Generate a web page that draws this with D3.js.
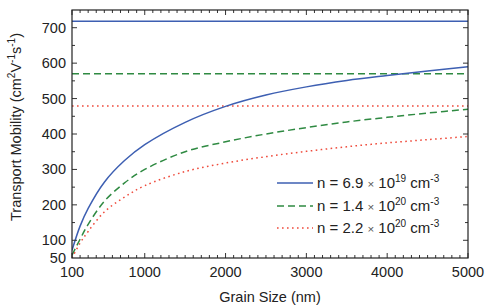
<!DOCTYPE html>
<html>
<head>
<meta charset="utf-8">
<script src="https://cdn.jsdelivr.net/npm/d3@7"></script>
<style>
  body { margin: 0; background: #fff; }
  text { font-family: "Liberation Sans", Arial, Helvetica, sans-serif; fill: #222; }
</style>
</head>
<body>
<div id="container"></div>
<script>
/* DATA */
const grainSize = [100, 200, 300, 500, 750, 1000, 1500, 2000, 2500, 3000, 3500, 4000, 4500, 5000];
const mobilityN1 = [72, 140, 190, 264, 325, 370, 433, 478, 510, 533, 551, 565, 578, 590];
const mobilityN2 = [58, 103, 145, 210, 262, 300, 350, 378, 400, 418, 434, 447, 459, 470];
const mobilityN3 = [50, 92, 125, 180, 222, 254, 294, 318, 336, 351, 364, 375, 384, 393];
const bulkMobility = [718, 570, 479];
const seriesNames = [["6.9", "19"], ["1.4", "20"], ["2.2", "20"]];
const xTickValues = [100, 1000, 2000, 3000, 4000, 5000];
const yTickValues = [50, 100, 200, 300, 400, 500, 600, 700];

/* CONSTANTS */
const width = 490, height = 308;
const mLeft = 72, mRight = 468, mTop = 10, mBottom = 258;
const colors = ["#3d5fb2", "#2f8a42", "#ef4b3c"];
const dashes = [null, "7,4", "1.6,3.4"];

const svg = d3.select("#container").append("svg")
  .attr("width", width).attr("height", height);

/* SCALES */
const xScale = d3.scaleLinear().domain([100, 5000]).range([mLeft, mRight]);
const yScale = d3.scaleLinear().domain([50, 750]).range([mBottom, mTop]);

// clip
svg.append("clipPath").attr("id", "clip")
  .append("rect").attr("x", mLeft).attr("y", mTop)
  .attr("width", mRight - mLeft).attr("height", mBottom - mTop);

const plot = svg.append("g").attr("clip-path", "url(#clip)");

const series = [mobilityN1, mobilityN2, mobilityN3];
const line = d3.line()
  .x(d => xScale(d[0]))
  .y(d => yScale(d[1]))
  .curve(d3.curveCatmullRom.alpha(0.5));

// bulk horizontal lines
bulkMobility.forEach((v, i) => {
  plot.append("line")
    .attr("x1", mLeft).attr("x2", mRight)
    .attr("y1", yScale(v)).attr("y2", yScale(v))
    .attr("stroke", colors[i]).attr("stroke-width", 1.5)
    .attr("stroke-dasharray", dashes[i]);
});

// curves
series.forEach((s, i) => {
  plot.append("path")
    .datum(grainSize.map((g, j) => [g, s[j]]))
    .attr("d", line)
    .attr("fill", "none")
    .attr("stroke", colors[i]).attr("stroke-width", 1.5)
    .attr("stroke-dasharray", dashes[i]);
});

/* AXES */
const minorX = d3.range(200, 5000, 100).filter(v => v % 1000 !== 0);
const minorY = d3.range(150, 750, 100);

function ticksX(y, dir) {
  const g = svg.append("g").attr("stroke", "#333").attr("stroke-width", 1);
  xTickValues.forEach(v => {
    g.append("line").attr("x1", xScale(v)).attr("x2", xScale(v))
      .attr("y1", y).attr("y2", y + dir * 5);
  });
  minorX.forEach(v => {
    g.append("line").attr("x1", xScale(v)).attr("x2", xScale(v))
      .attr("y1", y).attr("y2", y + dir * 3);
  });
}
function ticksY(x, dir) {
  const g = svg.append("g").attr("stroke", "#333").attr("stroke-width", 1);
  yTickValues.filter(v => v !== 50).forEach(v => {
    g.append("line").attr("x1", x).attr("x2", x + dir * 5)
      .attr("y1", yScale(v)).attr("y2", yScale(v));
  });
  minorY.forEach(v => {
    g.append("line").attr("x1", x).attr("x2", x + dir * 3)
      .attr("y1", yScale(v)).attr("y2", yScale(v));
  });
}
ticksX(mBottom, -1);
ticksX(mTop, 1);
ticksY(mLeft, 1);
ticksY(mRight, -1);

// frame
svg.append("rect")
  .attr("x", mLeft).attr("y", mTop)
  .attr("width", mRight - mLeft).attr("height", mBottom - mTop)
  .attr("fill", "none").attr("stroke", "#222").attr("stroke-width", 1.2);

// tick labels
svg.append("g").selectAll("text")
  .data(xTickValues).join("text")
  .attr("x", d => xScale(d)).attr("y", 277)
  .attr("text-anchor", "middle").attr("font-size", 14.5)
  .text(d => d);

svg.append("g").selectAll("text")
  .data(yTickValues).join("text")
  .attr("x", 66).attr("y", d => yScale(d) + 5)
  .attr("text-anchor", "end").attr("font-size", 14.5)
  .text(d => d);

// axis titles
svg.append("text")
  .attr("x", 270).attr("y", 302)
  .attr("text-anchor", "middle").attr("font-size", 14.5)
  .text("Grain Size (nm)");

const yt = svg.append("text")
  .attr("transform", "translate(21,127) rotate(-90)")
  .attr("text-anchor", "middle").attr("font-size", 14.5);
yt.append("tspan").text("Transport Mobility (cm");
yt.append("tspan").attr("dy", -6).attr("font-size", 10).text("2");
yt.append("tspan").attr("dy", 6).text("V");
yt.append("tspan").attr("dy", -6).attr("font-size", 10).text("-1");
yt.append("tspan").attr("dy", 6).text("s");
yt.append("tspan").attr("dy", -6).attr("font-size", 10).text("-1");
yt.append("tspan").attr("dy", 6).text(")");

/* LEGEND */
const legendY = [183, 206, 228];
seriesNames.forEach((nm, i) => {
  svg.append("line")
    .attr("x1", 277).attr("x2", 313)
    .attr("y1", legendY[i]).attr("y2", legendY[i])
    .attr("stroke", colors[i]).attr("stroke-width", 1.5)
    .attr("stroke-dasharray", dashes[i]);
  const t = svg.append("text")
    .attr("x", 317).attr("y", legendY[i] + 5)
    .attr("font-size", 15);
  t.append("tspan").text("n = " + nm[0] + " ");
  t.append("tspan").attr("font-size", 11.5).attr("fill", "#555").text("×");
  t.append("tspan").text(" 10");
  t.append("tspan").attr("dy", -6).attr("font-size", 10).text(nm[1]);
  t.append("tspan").attr("dy", 6).text(" cm");
  t.append("tspan").attr("dy", -6).attr("font-size", 10).text("-3");
});
</script>
</body>
</html>
